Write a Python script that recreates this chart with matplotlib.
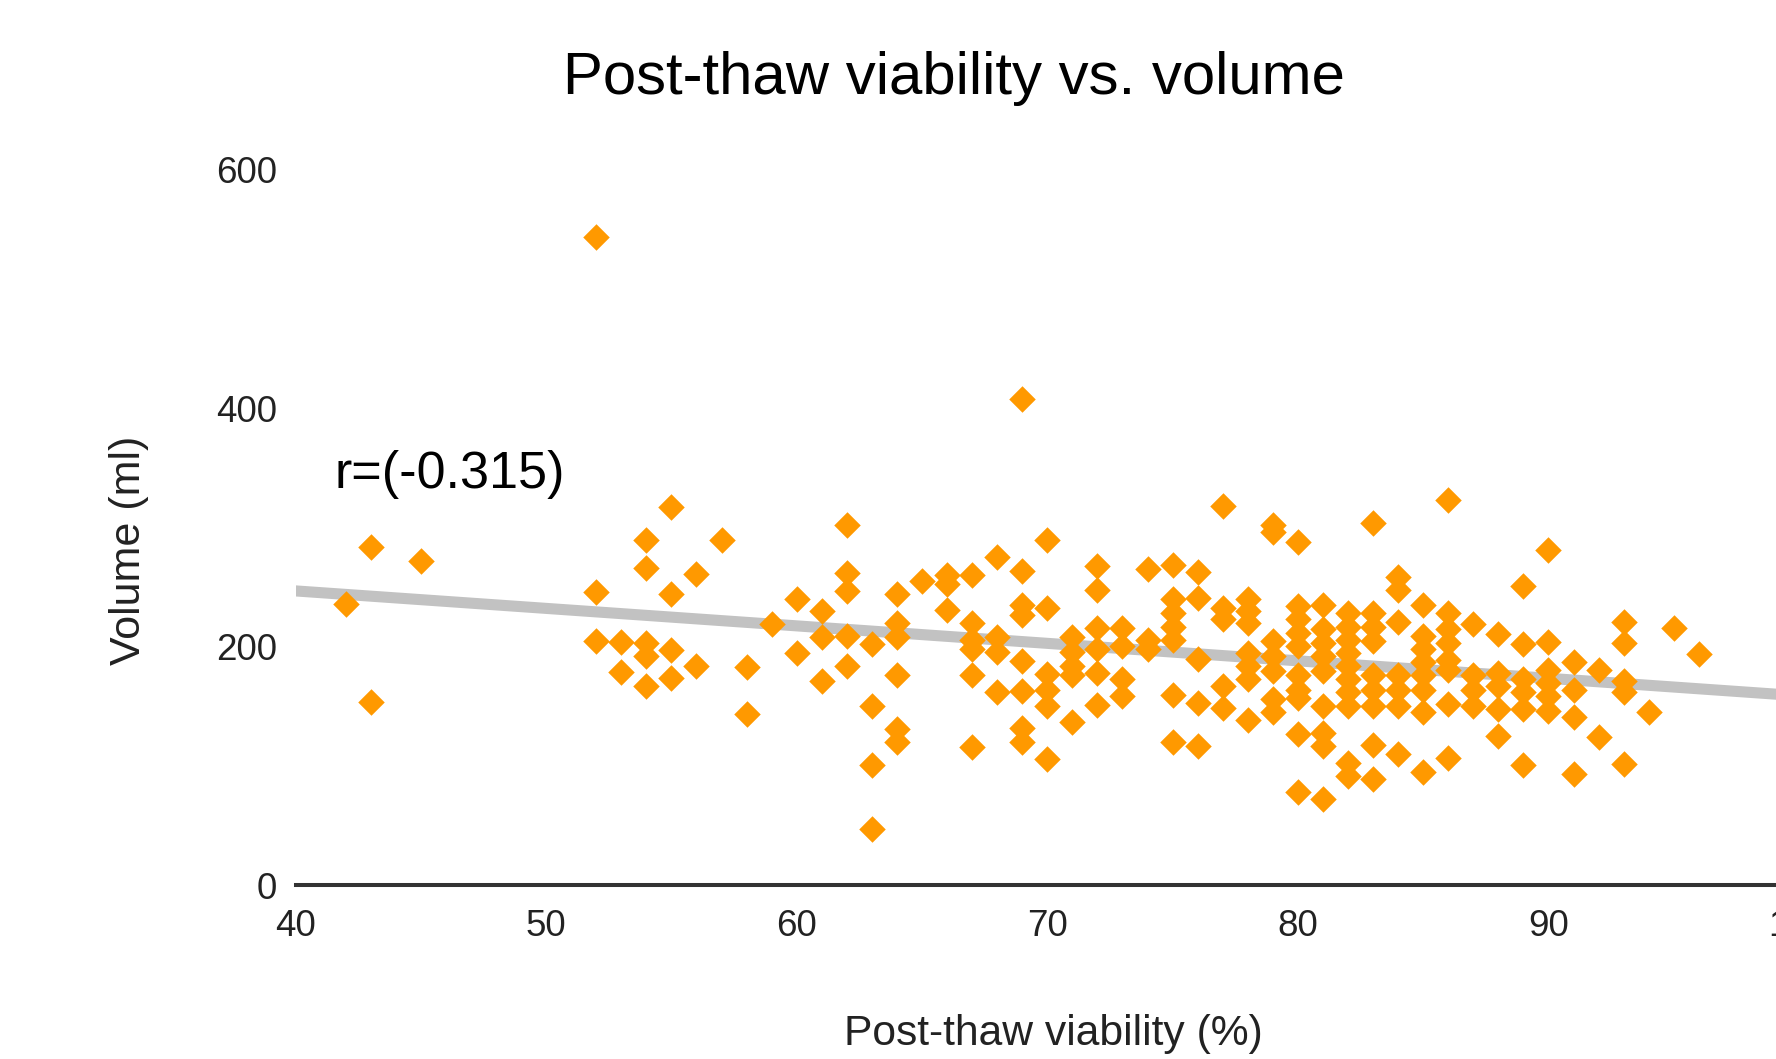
import numpy as np
import matplotlib
matplotlib.use("Agg")
import matplotlib.pyplot as plt

plt.rcParams['font.family'] = ['Liberation Sans', 'DejaVu Sans']

# viability (%) -> volumes (ml), one list per integer viability
viability_cols = [42, 43, 45, 52, 53, 54, 55, 56, 57, 58, 59, 60, 61, 62, 63, 64,
                  65, 66, 67, 68, 69, 70, 71, 72, 73, 74, 75, 76, 77, 78, 79, 80,
                  81, 82, 83, 84, 85, 86, 87, 88, 89, 90, 91, 92, 93, 94, 95, 96]
volume_cols = [
    [236],
    [284, 154],
    [272],
    [544, 246, 205],
    [204, 179],
    [290, 266, 203, 192, 167],
    [317, 244, 197, 174],
    [261, 184],
    [290],
    [183, 144],
    [219],
    [240, 195],
    [230, 208, 171],
    [302, 262, 247, 209, 184],
    [202, 150, 101, 47],
    [244, 220, 208, 176, 131, 120],
    [255],
    [260, 253, 231],
    [260, 220, 206, 198, 176, 116],
    [275, 208, 196, 162],
    [408, 264, 235, 227, 188, 163, 132, 120],
    [290, 233, 177, 164, 150, 106],
    [208, 196, 184, 176, 137],
    [268, 248, 216, 198, 178, 151],
    [216, 201, 173, 159],
    [265, 206, 198],
    [269, 240, 228, 217, 206, 160, 120],
    [263, 241, 190, 153, 117],
    [318, 233, 223, 167, 149],
    [240, 230, 220, 195, 184, 173, 139],
    [302, 296, 205, 192, 180, 156, 145],
    [288, 234, 223, 212, 201, 176, 164, 157, 127, 78],
    [235, 215, 203, 192, 180, 150, 128, 117, 72],
    [228, 217, 206, 195, 184, 173, 162, 150, 103, 92],
    [304, 228, 217, 205, 176, 164, 150, 118, 89],
    [259, 248, 221, 176, 164, 150, 110],
    [235, 209, 198, 187, 176, 164, 145, 95],
    [323, 228, 215, 203, 189, 181, 152, 107],
    [219, 176, 164, 150],
    [211, 178, 167, 148, 125],
    [251, 202, 173, 162, 148, 101],
    [281, 204, 181, 170, 159, 146],
    [187, 164, 141, 93],
    [181, 124],
    [221, 203, 171, 162, 102],
    [145],
    [216],
    [194],
]
x_ticks = [40, 50, 60, 70, 80, 90, 100]
y_ticks = [0, 200, 400, 600]
r_label = "r=(-0.315)"

viability = np.concatenate([[v] * len(vols) for v, vols in zip(viability_cols, volume_cols)])
volume = np.concatenate(volume_cols)

fig = plt.figure(figsize=(17.76, 10.59), dpi=100)
# the original screenshot is cut off on the right, so the axes run past the edge
ax = fig.add_axes([0.1664, 0.1640, 0.8466, 0.6755])

# linear trendline
slope, intercept = np.polyfit(viability, volume, 1)
trend_x = np.array([40, 100])
ax.plot(trend_x, slope * trend_x + intercept, color='#c2c2c2', lw=8,
        solid_capstyle='butt', zorder=1)

ax.scatter(viability, volume, marker='D', s=13.5 ** 2, color='#ff9900',
           linewidths=0, zorder=2)

ax.set_xlim(40, 100)
ax.set_ylim(0, 600)
ax.set_xticks(x_ticks)
ax.set_yticks(y_ticks)
ax.tick_params(axis='both', length=0, labelsize=26.5, labelcolor='#222222')
ax.tick_params(axis='x', pad=17)
ax.tick_params(axis='y', pad=13.4)
for side in ['top', 'right', 'left']:
    ax.spines[side].set_visible(False)
ax.spines['bottom'].set_color('#333333')
ax.spines['bottom'].set_linewidth(2.9)

fig.text(0.5374, 0.9110, "Post-thaw viability vs. volume", fontsize=43.2,
         ha='center', va='baseline', color='#000000')
fig.text(0.5929, 0.0132, "Post-thaw viability (%)", fontsize=30.7,
         ha='center', va='baseline', color='#222222')
fig.text(0.0726, 0.4806, "Volume (ml)", fontsize=31, rotation=90,
         ha='center', va='center', color='#222222')
fig.text(0.1886, 0.5392, r_label, fontsize=37.5, ha='left', va='baseline',
         color='#000000')

fig.savefig("out.png", dpi=100)
